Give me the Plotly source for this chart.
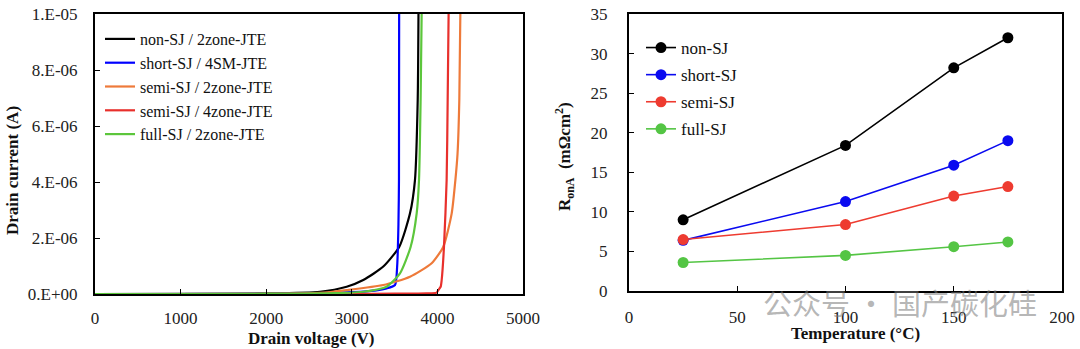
import plotly.graph_objects as go

# ---------------- Left chart data: breakdown I-V ----------------
non_sj_v = [0, 1000, 2000, 2628, 2940, 3134, 3368, 3555, 3680, 3738, 3770, 3779]
non_sj_i = [0, 0.003e-6, 0.02e-6, 0.08e-6, 0.26e-6, 0.5e-6, 0.98e-6, 1.69e-6, 2.88e-6, 4.07e-6, 6.93e-6, 1.0e-5]

short_sj_v = [0, 1000, 2000, 2800, 3200, 3407, 3505, 3530, 3545, 3551, 3553]
short_sj_i = [0, 0, 0.01e-6, 0.04e-6, 0.1e-6, 0.2e-6, 0.32e-6, 1.0e-6, 2.5e-6, 4.07e-6, 1.0e-5]

semi2_v = [0, 1000, 2000, 2628, 2940, 3368, 3680, 3933, 4069, 4167, 4210, 4235, 4256, 4268]
semi2_i = [0, 0, 0.01e-6, 0.04e-6, 0.14e-6, 0.32e-6, 0.62e-6, 1.1e-6, 1.69e-6, 2.88e-6, 4.07e-6, 5.0e-6, 6.93e-6, 1.0e-5]

semi4_v = [0, 1000, 2000, 3000, 3500, 3875, 3991, 4011, 4038, 4050, 4077, 4108, 4120, 4131]
semi4_i = [0, 0, 0, 0.005e-6, 0.01e-6, 0.02e-6, 0.05e-6, 0.14e-6, 0.26e-6, 0.5e-6, 1.69e-6, 4.07e-6, 6.93e-6, 1.0e-5]

full_sj_v = [0, 1000, 2000, 2800, 3131, 3407, 3563, 3688, 3758, 3785, 3804, 3816]
full_sj_i = [0, 0, 0.01e-6, 0.03e-6, 0.08e-6, 0.26e-6, 0.74e-6, 1.69e-6, 2.88e-6, 4.07e-6, 6.93e-6, 1.0e-5]

left_names = ["non-SJ / 2zone-JTE", "short-SJ / 4SM-JTE", "semi-SJ / 2zone-JTE",
              "semi-SJ / 4zone-JTE", "full-SJ / 2zone-JTE"]
left_colors = ["#000000", "#0000FF", "#EE7A3A", "#E8302C", "#5CC63C"]

left_xticks = [0, 1000, 2000, 3000, 4000, 5000]
left_yticks = [0, 2e-6, 4e-6, 6e-6, 8e-6, 1e-5]
left_yticktext = ["0.E+00", "2.E-06", "4.E-06", "6.E-06", "8.E-06", "1.E-05"]

# ---------------- Right chart data: RonA vs temperature ----------------
temperature = [25, 100, 150, 175]
ron_non_sj = [9.0, 18.4, 28.2, 32.0]
ron_short_sj = [6.4, 11.3, 15.9, 19.0]
ron_semi_sj = [6.5, 8.4, 12.0, 13.2]
ron_full_sj = [3.6, 4.5, 5.6, 6.2]

right_names = ["non-SJ", "short-SJ", "semi-SJ", "full-SJ"]
right_colors = ["#000000", "#0A0AF0", "#EE3B30", "#54C544"]
right_xticks = [0, 50, 100, 150, 200]
right_yticks = [0, 5, 10, 15, 20, 25, 30, 35]

SERIF = "Liberation Serif, Times New Roman, serif"
W, H = 1080, 349

fig = go.Figure()

left_data = [(non_sj_v, non_sj_i), (short_sj_v, short_sj_i), (semi2_v, semi2_i),
             (semi4_v, semi4_i), (full_sj_v, full_sj_i)]
for (xv, yv), name, col in zip(left_data, left_names, left_colors):
    fig.add_trace(go.Scatter(x=xv, y=yv, mode="lines", name=name,
                             line=dict(color=col, width=2.2, shape="spline", smoothing=0.6),
                             xaxis="x", yaxis="y", legend="legend"))

right_data = [ron_non_sj, ron_short_sj, ron_semi_sj, ron_full_sj]
for k, (yv, name, col) in enumerate(zip(right_data, right_names, right_colors)):
    fig.add_trace(go.Scatter(x=temperature, y=yv, mode="lines+markers", name=name,
                             line=dict(color=col, width=1.6),
                             marker=dict(color=col, size=11),
                             legendgroup="g%d" % k,
                             xaxis="x2", yaxis="y2", legend="legend2"))

def px_x(p):
    return p / W

def px_y(p):
    return 1 - p / H

axis_common = dict(showline=True, linecolor="black", linewidth=2, mirror=True,
                   ticks="inside", ticklen=5, tickcolor="black", tickwidth=1,
                   showgrid=False, zeroline=False, automargin=False,
                   tickfont=dict(family=SERIF, size=17, color="#222222"))

fig.update_layout(
    width=W, height=H,
    margin=dict(l=0, r=0, t=0, b=0, autoexpand=False),
    paper_bgcolor="white", plot_bgcolor="white",
    xaxis=dict(domain=[px_x(95), px_x(523)], range=[0, 5000], tickvals=left_xticks,
               anchor="y", ticklabelstandoff=8, **axis_common),
    yaxis=dict(domain=[px_y(294), px_y(14)], range=[0, 1e-5], tickvals=left_yticks,
               ticktext=left_yticktext, anchor="x", ticklabelstandoff=12, **axis_common),
    xaxis2=dict(domain=[px_x(629), px_x(1062)], range=[0, 200], tickvals=right_xticks,
                anchor="y2", ticklabelstandoff=10, **axis_common),
    yaxis2=dict(domain=[px_y(291), px_y(14)], range=[0, 35], tickvals=right_yticks,
                anchor="x2", ticklabelstandoff=16, **axis_common),
    legend=dict(x=px_x(100), y=px_y(22), xanchor="left", yanchor="top",
                bgcolor="rgba(0,0,0,0)", borderwidth=0, itemwidth=30,
                font=dict(family=SERIF, size=16, color="#111111")),
    legend2=dict(x=px_x(641), y=px_y(30), xanchor="left", yanchor="top",
                 bgcolor="rgba(0,0,0,0)", borderwidth=0, itemwidth=30,
                 tracegroupgap=2,
                 font=dict(family=SERIF, size=17, color="#111111")),
    showlegend=True,
)

title_font = dict(family=SERIF, size=17, color="#111111")
annots = [
    dict(text="<b>Drain voltage (V)</b>", x=px_x(311), y=px_y(338)),
    dict(text="<b>Drain current (A)</b>", x=px_x(12), y=px_y(171), textangle=-90),
    dict(text="<b>Temperature (°C)</b>", x=px_x(855), y=px_y(333)),
    dict(text="<b>R<sub>onA</sub>  (mΩcm<sup>2</sup>)</b>", x=px_x(564), y=px_y(157), textangle=-90),
]
for a in annots:
    fig.add_annotation(xref="paper", yref="paper", showarrow=False,
                       xanchor="center", yanchor="middle", font=title_font, **a)

# watermark
fig.add_annotation(xref="paper", yref="paper", showarrow=False, x=px_x(900), y=px_y(302),
                   xanchor="center", yanchor="middle", text="公众号 · 国产碳化硅",
                   font=dict(family="Noto Sans CJK SC", size=29, color="rgba(120,120,120,0.55)"))

fig.write_html("out.html")
